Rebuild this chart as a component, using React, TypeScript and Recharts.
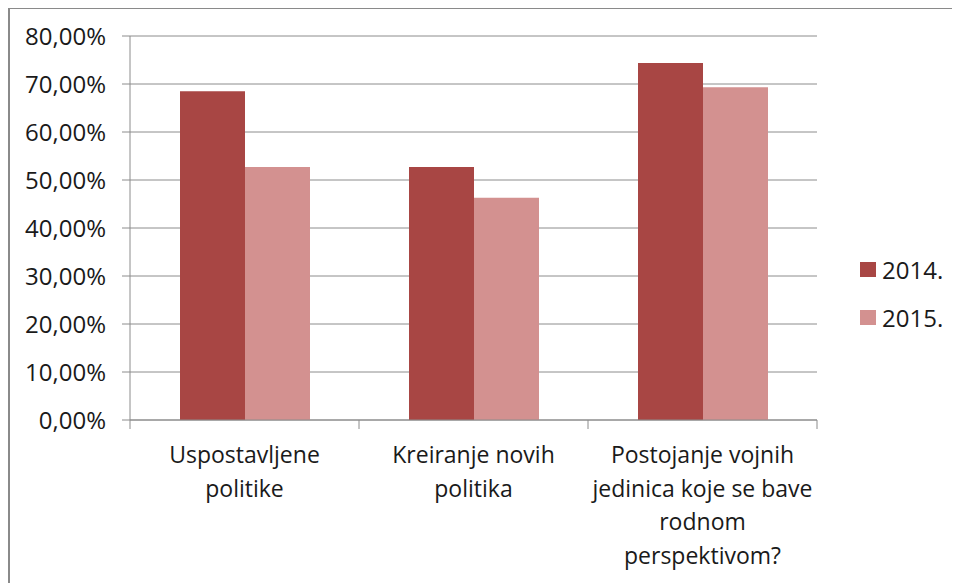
import React from "react";
import { Bar, BarChart, CartesianGrid, XAxis, YAxis } from "recharts";

const categories = [
  "Uspostavljene\npolitike",
  "Kreiranje novih\npolitika",
  "Postojanje vojnih\njedinica koje se bave\nrodnom\nperspektivom?",
];
const values2014 = [68.5, 52.7, 74.4];
const values2015 = [52.7, 46.3, 69.3];
const seriesNames = ["2014.", "2015."];
const yTicks = [0, 10, 20, 30, 40, 50, 60, 70, 80];

const COLOR_2014 = "#A84644";
const COLOR_2015 = "#D39190";
const GRID = "#8c8c8c";
const FONT = "'Open Sans', sans-serif";
const PLOT_W = 687;

const data = categories.map((name, i) => ({
  name,
  v2014: values2014[i],
  v2015: values2015[i],
}));

const formatPct = (v: number) => `${v.toFixed(2).replace(".", ",")}%`;

// category label split on line breaks + boundary tick marks like Excel
const CategoryTick = (props: any) => {
  const { x, y, payload, index } = props;
  const band = PLOT_W / categories.length;
  const lines = String(payload.value).split("\n");
  const left = x - band / 2;
  return (
    <g>
      <line x1={left} y1={y} x2={left} y2={y + 9} stroke={GRID} />
      {index === categories.length - 1 && (
        <line x1={left + band} y1={y} x2={left + band} y2={y + 9} stroke={GRID} />
      )}
      <text
        x={x}
        y={y}
        textAnchor="middle"
        fill="#1a1a1a"
        fontSize={23}
        fontFamily={FONT}
      >
        {lines.map((ln, i) => (
          <tspan key={i} x={x} dy={i === 0 ? 43 : 33.5}>
            {ln}
          </tspan>
        ))}
      </text>
    </g>
  );
};

const LegendBox = () => (
  <div
    style={{
      position: "absolute",
      left: 850,
      top: 236,
      fontFamily: FONT,
      fontSize: 24,
      color: "#1a1a1a",
    }}
  >
    {seriesNames.map((s, i) => (
      <div key={s} style={{ display: "flex", alignItems: "center", height: 48 }}>
        <span
          style={{
            display: "inline-block",
            width: 16,
            height: 15,
            marginRight: 6,
            background: i === 0 ? COLOR_2014 : COLOR_2015,
          }}
        />
        <span>{s}</span>
      </div>
    ))}
  </div>
);

export default function App() {
  return (
    <div
      style={{
        position: "relative",
        marginTop: -1,
        width: 960,
        height: 590,
        borderTop: "2px solid #8a8a8a",
        borderLeft: "2px solid #8a8a8a",
        background: "#fff",
      }}
    >
      <BarChart
        width={950}
        height={575}
        data={data}
        barGap={0}
        margin={{ top: 27, right: 143, left: 0, bottom: 0 }}
      >
        <CartesianGrid vertical={false} stroke={GRID} />
        <XAxis
          dataKey="name"
          height={164}
          tickSize={0}
          tickMargin={0}
          axisLine={{ stroke: GRID }}
          tickLine={false}
          interval={0}
          tick={<CategoryTick />}
        />
        <YAxis
          width={120}
          domain={[0, 80]}
          ticks={yTicks}
          tickFormatter={formatPct}
          tickSize={8}
          tickMargin={16}
          axisLine={{ stroke: GRID }}
          tickLine={{ stroke: GRID }}
          tick={{ fill: "#1a1a1a", fontSize: 24, fontFamily: FONT }}
        />
        <Bar
          dataKey="v2014"
          name={seriesNames[0]}
          fill={COLOR_2014}
          barSize={65}
          isAnimationActive={false}
        />
        <Bar
          dataKey="v2015"
          name={seriesNames[1]}
          fill={COLOR_2015}
          barSize={65}
          isAnimationActive={false}
        />
      </BarChart>
      <LegendBox />
    </div>
  );
}
